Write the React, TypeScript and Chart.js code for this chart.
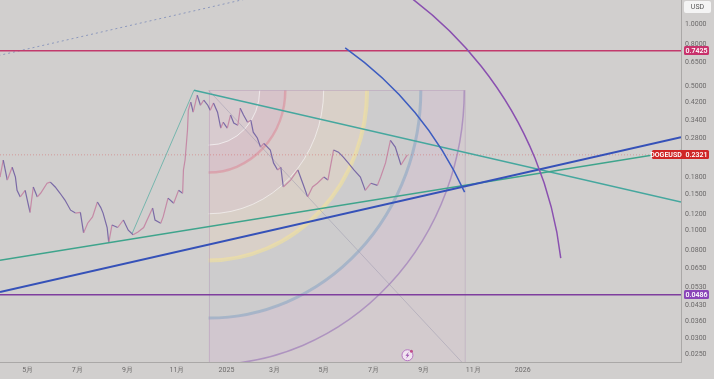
import { useEffect, useRef } from "react";
import { Chart, registerables } from "chart.js";

Chart.register(...registerables);

// ---------- data ----------
const EPOCH = Date.UTC(2025, 0, 1);
const day = (s: string) => Math.round((Date.parse(s + "T00:00:00Z") - EPOCH) / 86400000);

const priceDates = [
  "2024-03-20", "2024-03-28", "2024-04-01", "2024-04-06", "2024-04-12", "2024-04-16", "2024-04-18", "2024-04-22",
  "2024-04-28", "2024-05-04", "2024-05-08", "2024-05-13", "2024-05-17", "2024-05-25", "2024-05-29", "2024-06-04",
  "2024-06-10", "2024-06-16", "2024-06-23", "2024-06-29", "2024-07-05", "2024-07-09", "2024-07-14", "2024-07-20",
  "2024-07-26", "2024-07-30", "2024-08-02", "2024-08-07", "2024-08-09", "2024-08-13", "2024-08-20", "2024-08-27",
  "2024-09-02", "2024-09-08", "2024-09-14", "2024-09-21", "2024-10-02", "2024-10-05", "2024-10-12", "2024-10-15",
  "2024-10-21", "2024-10-28", "2024-11-03", "2024-11-08", "2024-11-09", "2024-11-11", "2024-11-14", "2024-11-15",
  "2024-11-18", "2024-11-21", "2024-11-26", "2024-11-30", "2024-12-04", "2024-12-09", "2024-12-12", "2024-12-16",
  "2024-12-21", "2024-12-25", "2024-12-28", "2025-01-02", "2025-01-06", "2025-01-10", "2025-01-15", "2025-01-18",
  "2025-01-22", "2025-01-27", "2025-01-31", "2025-02-03", "2025-02-08", "2025-02-12", "2025-02-16", "2025-02-24",
  "2025-02-28", "2025-03-05", "2025-03-09", "2025-03-12", "2025-03-21", "2025-03-30", "2025-04-05", "2025-04-11",
  "2025-04-17", "2025-04-23", "2025-05-01", "2025-05-06", "2025-05-13", "2025-05-19", "2025-05-25", "2025-05-31",
  "2025-06-07", "2025-06-15", "2025-06-21", "2025-06-28", "2025-07-06", "2025-07-10", "2025-07-16", "2025-07-22",
  "2025-07-28", "2025-08-04", "2025-08-10", "2025-08-12",
];
const priceValues = [
  0.191, 0.181, 0.219, 0.175, 0.202, 0.181, 0.156, 0.145,
  0.156, 0.122, 0.162, 0.145, 0.151, 0.169, 0.171, 0.162,
  0.151, 0.14, 0.125, 0.121, 0.122, 0.097, 0.108, 0.116,
  0.137, 0.129, 0.121, 0.103, 0.087, 0.106, 0.103, 0.112,
  0.1, 0.095, 0.098, 0.103, 0.128, 0.112, 0.108, 0.116,
  0.143, 0.135, 0.156, 0.151, 0.196, 0.219, 0.306, 0.382,
  0.418, 0.374, 0.452, 0.404, 0.428, 0.404, 0.382, 0.414,
  0.374, 0.313, 0.334, 0.313, 0.362, 0.331, 0.323, 0.391,
  0.362, 0.334, 0.342, 0.299, 0.28, 0.253, 0.264, 0.245,
  0.212, 0.196, 0.202, 0.162, 0.175, 0.196, 0.169, 0.145,
  0.162, 0.169, 0.181, 0.175, 0.245, 0.239, 0.226, 0.212,
  0.196, 0.181, 0.156, 0.169, 0.165, 0.181, 0.212, 0.273,
  0.253, 0.207, 0.226, 0.2321,
];

const xTickDates = [
  "2024-05-01", "2024-07-01", "2024-09-01", "2024-11-01", "2025-01-01", "2025-03-01",
  "2025-05-01", "2025-07-01", "2025-09-01", "2025-11-01", "2026-01-01",
];
const xTickLabels = ["5月", "7月", "9月", "11月", "2025", "3月", "5月", "7月", "9月", "11月", "2026"];
const yTickValues = [
  1, 0.8, 0.65, 0.5, 0.42, 0.34, 0.28, 0.23, 0.18, 0.15, 0.12, 0.1, 0.08, 0.065, 0.053, 0.043, 0.036, 0.03, 0.025,
];

const viewStart = "2024-03-28";
const viewEnd = "2026-07-15";
const priceMin = 0.0229;
const priceMax = 1.31;

const symbol = "DOGEUSD";
const currency = "USD";
const lastPrice = 0.2321;
const resistancePrice = 0.7425;
const supportPrice = 0.0486;

const dottedTrendDates = ["2024-03-20", "2025-02-10"];
const dottedTrendValues = [0.695, 1.37];
const tealFallDates = ["2024-11-22", "2026-07-15"];
const tealFallValues = [0.478, 0.137];
const tealRiseDates = ["2024-09-07", "2024-11-22"];
const tealRiseValues = [0.0967, 0.478];
const greenTrendDates = ["2024-03-28", "2026-07-15"];
const greenTrendValues = [0.0714, 0.2435];
const blueTrendDates = ["2024-03-28", "2026-07-15"];
const blueTrendValues = [0.0501, 0.2826];

const gannDates = ["2024-12-10", "2025-10-21"];
const gannPrices = [0.478, 0.0222];
const gannLevels = [0.2, 0.3, 0.45, 0.62, 0.83, 1];

const purpleArcCenter: [string, number] = ["2024-11-09", 0.0447];
const purpleArcRadius: [string, number] = ["2026-02-20", 3.128];
const purpleArcFrom: [string, number] = ["2025-04-17", 2.418];
const purpleArcTo: [string, number] = ["2026-02-17", 0.0731];
const blueArcCenter: [string, number] = ["2024-09-10", 0.02833];
const blueArcRadius: [string, number] = ["2025-12-01", 1.626];
const blueArcFrom: [string, number] = ["2025-05-27", 0.7647];
const blueArcTo: [string, number] = ["2025-10-21", 0.1527];

const eventMarker: [string, number] = ["2025-08-12", 0.0247];

// ---------- styles ----------
const BG = "#d1cfce";
const AXIS_LINE = "#aaa8a7";
const TICK_COLOR = "#6b6969";
const FONT = "Roboto, 'Noto Sans', sans-serif";
const UP = "#c58aa6";
const DOWN = "#7a6aa6";

const gannBandColors = [
  "rgba(240,205,212,0.16)",
  "rgba(236,160,175,0.17)",
  "rgba(244,205,180,0.16)",
  "rgba(244,232,180,0.18)",
  "rgba(180,212,206,0.18)",
  "rgba(200,182,216,0.15)",
];
const gannLineColors = [
  "rgba(255,255,255,0.6)",
  "rgba(222,112,132,0.4)",
  "rgba(255,255,255,0.55)",
  "rgba(246,228,150,0.55)",
  "rgba(140,166,196,0.6)",
  "rgba(150,112,182,0.6)",
];
const gannLineWidths = [1, 2.5, 1, 4, 3, 1.5];

const pairs = (d: string[], v: number[]) => d.map((s, i) => ({ x: day(s), y: v[i] }));

function lineDs(data: { x: number; y: number }[], color: string, width: number, order: number, dash?: number[]) {
  return {
    type: "line" as const,
    data,
    borderColor: color,
    borderWidth: width,
    borderDash: dash || [],
    pointRadius: 0,
    tension: 0,
    order,
  };
}

function drawArc(chart: any, center: [string, number], radius: [string, number], from: [string, number], to: [string, number], color: string, width: number) {
  const { ctx, chartArea: a } = chart;
  const xs = chart.scales.x;
  const ys = chart.scales.y;
  const cx = xs.getPixelForValue(day(center[0]));
  const cy = ys.getPixelForValue(center[1]);
  const rx = Math.abs(xs.getPixelForValue(day(radius[0])) - cx);
  const ry = Math.abs(ys.getPixelForValue(radius[1]) - cy);
  const ang = (p: [string, number]) =>
    Math.atan2((ys.getPixelForValue(p[1]) - cy) / ry, (xs.getPixelForValue(day(p[0])) - cx) / rx);
  ctx.save();
  ctx.beginPath();
  ctx.rect(a.left, a.top, a.right - a.left, a.bottom - a.top);
  ctx.clip();
  ctx.beginPath();
  ctx.ellipse(cx, cy, rx, ry, 0, ang(from), ang(to));
  ctx.strokeStyle = color;
  ctx.lineWidth = width;
  ctx.stroke();
  ctx.restore();
}

function priceTag(ctx: any, x: number, y: number, w: number, text: string, bg: string) {
  const h = 9;
  ctx.fillStyle = bg;
  ctx.beginPath();
  ctx.roundRect(x, Math.round(y - h / 2), w, h, 1.5);
  ctx.fill();
  ctx.fillStyle = "#ffffff";
  ctx.font = `600 7px ${FONT}`;
  ctx.textAlign = "center";
  ctx.textBaseline = "middle";
  ctx.fillText(text, x + w / 2, y + 0.5);
}

const drawingsPlugin = {
  id: "drawings",
  beforeDraw(chart: any) {
    const { ctx, width, height } = chart;
    ctx.save();
    ctx.fillStyle = BG;
    ctx.fillRect(0, 0, width, height);
    ctx.restore();
  },
  beforeDatasetsDraw(chart: any) {
    const { ctx, chartArea: a } = chart;
    const xs = chart.scales.x;
    const ys = chart.scales.y;
    const x0 = xs.getPixelForValue(day(gannDates[0]));
    const x1 = xs.getPixelForValue(day(gannDates[1]));
    const y0 = ys.getPixelForValue(gannPrices[0]);
    const y1 = ys.getPixelForValue(gannPrices[1]);
    const W = x1 - x0;
    const H = y1 - y0;
    ctx.save();
    ctx.beginPath();
    ctx.rect(a.left, a.top, a.right - a.left, a.bottom - a.top);
    ctx.clip();
    ctx.fillStyle = "rgba(226,186,204,0.16)";
    ctx.fillRect(x0, y0, W, H);
    let prev = 0;
    gannLevels.forEach((f, i) => {
      ctx.beginPath();
      ctx.ellipse(x0, y0, f * W, f * H, 0, 0, Math.PI / 2);
      if (prev > 0) ctx.ellipse(x0, y0, prev * W, prev * H, 0, Math.PI / 2, 0, true);
      else ctx.lineTo(x0, y0);
      ctx.closePath();
      ctx.fillStyle = gannBandColors[i];
      ctx.fill();
      prev = f;
    });
    gannLevels.forEach((f, i) => {
      ctx.beginPath();
      ctx.ellipse(x0, y0, f * W, f * H, 0, 0, Math.PI / 2);
      ctx.strokeStyle = gannLineColors[i];
      ctx.lineWidth = gannLineWidths[i];
      ctx.stroke();
    });
    ctx.strokeStyle = "rgba(180,150,185,0.45)";
    ctx.lineWidth = 1;
    ctx.strokeRect(Math.round(x0) + 0.5, Math.round(y0) + 0.5, W, H);
    ctx.beginPath();
    ctx.moveTo(x0, y0);
    ctx.lineTo(x1, y1);
    ctx.strokeStyle = "rgba(150,148,170,0.45)";
    ctx.stroke();
    ctx.restore();
  },
  afterDatasetsDraw(chart: any) {
    drawArc(chart, purpleArcCenter, purpleArcRadius, purpleArcFrom, purpleArcTo, "#8a50b0", 1.5);
    drawArc(chart, blueArcCenter, blueArcRadius, blueArcFrom, blueArcTo, "#3d5cc0", 1.5);
    const { ctx } = chart;
    const ex = chart.scales.x.getPixelForValue(day(eventMarker[0]));
    const ey = chart.scales.y.getPixelForValue(eventMarker[1]);
    ctx.save();
    ctx.beginPath();
    ctx.arc(ex, ey, 5.5, 0, Math.PI * 2);
    ctx.fillStyle = "#f1e4f1";
    ctx.fill();
    ctx.strokeStyle = "#b878c4";
    ctx.lineWidth = 1;
    ctx.stroke();
    ctx.beginPath();
    ctx.moveTo(ex + 1.5, ey - 3.5);
    ctx.lineTo(ex - 2, ey + 0.5);
    ctx.lineTo(ex, ey + 0.5);
    ctx.lineTo(ex - 1.5, ey + 3.5);
    ctx.lineTo(ex + 2, ey - 0.5);
    ctx.lineTo(ex, ey - 0.5);
    ctx.closePath();
    ctx.fillStyle = "#9a4fae";
    ctx.fill();
    ctx.beginPath();
    ctx.arc(ex + 4, ey - 4, 1.5, 0, Math.PI * 2);
    ctx.fillStyle = "#c0508a";
    ctx.fill();
    ctx.restore();
  },
  afterDraw(chart: any) {
    const { ctx, chartArea: a } = chart;
    const ys = chart.scales.y;
    ctx.save();
    priceTag(ctx, a.right + 3, ys.getPixelForValue(resistancePrice), 25, resistancePrice.toFixed(4), "#c8326c");
    priceTag(ctx, a.right + 3, ys.getPixelForValue(supportPrice), 25, supportPrice.toFixed(4), "#8a45b8");
    const ly = ys.getPixelForValue(lastPrice);
    priceTag(ctx, a.right - 29, ly, 57, "", "#cf2626");
    ctx.fillStyle = "#ffffff";
    ctx.font = `600 7px ${FONT}`;
    ctx.textAlign = "center";
    ctx.textBaseline = "middle";
    ctx.fillText(symbol, a.right - 15, ly + 0.5);
    ctx.fillText(lastPrice.toFixed(4), a.right + 15.5, ly + 0.5);
    // currency box
    ctx.fillStyle = "#f4f4f4";
    ctx.beginPath();
    ctx.roundRect(a.right + 3, 1, 27, 12, 2);
    ctx.fill();
    ctx.fillStyle = "#555555";
    ctx.font = `7px ${FONT}`;
    ctx.fillText(currency, a.right + 16.5, 7.5);
    ctx.restore();
  },
};

export default function App() {
  const ref = useRef<HTMLCanvasElement | null>(null);

  useEffect(() => {
    if (!ref.current) return;
    const xMin = day(viewStart);
    const xMax = day(viewEnd);
    const tickDays = xTickDates.map(day);

    const datasets: any[] = [
      {
        type: "line",
        data: pairs(priceDates, priceValues),
        borderColor: DOWN,
        borderWidth: 1.2,
        pointRadius: 0,
        tension: 0,
        order: 20,
        segment: {
          borderColor: (c: any) => (c.p1.parsed.y >= c.p0.parsed.y ? UP : DOWN),
        },
      },
      lineDs(pairs([viewStart, viewEnd], [lastPrice, lastPrice]), "rgba(215,90,90,0.45)", 1, 15, [1, 2]),
      lineDs(pairs(dottedTrendDates, dottedTrendValues), "#8d99bd", 1, 9, [2, 3]),
      lineDs(pairs(tealRiseDates, tealRiseValues), "rgba(95,175,165,0.8)", 1, 8),
      lineDs(pairs(tealFallDates, tealFallValues), "#45a79e", 1.5, 7),
      lineDs(pairs(greenTrendDates, greenTrendValues), "#3ea48c", 1.5, 6),
      lineDs(pairs(blueTrendDates, blueTrendValues), "#3551b8", 2, 5),
      lineDs(pairs([viewStart, viewEnd], [resistancePrice, resistancePrice]), "#c23a6c", 1.5, 4),
      lineDs(pairs([viewStart, viewEnd], [supportPrice, supportPrice]), "#7f3e9e", 1.5, 3),
    ];

    const chart = new Chart(ref.current, {
      type: "line",
      data: { datasets },
      options: {
        responsive: false,
        animation: false,
        events: [],
        layout: { padding: 0, autoPadding: false },
        plugins: { legend: { display: false }, tooltip: { enabled: false }, title: { display: false } },
        scales: {
          x: {
            type: "linear",
            min: xMin,
            max: xMax,
            bounds: "data",
            afterFit: (s: any) => {
              s.height = 17;
              s.paddingLeft = 0;
              s.paddingRight = 0;
            },
            afterBuildTicks: (s: any) => {
              s.ticks = tickDays.map((v) => ({ value: v }));
            },
            grid: { display: false, drawTicks: false },
            border: { display: true, color: AXIS_LINE, width: 1 },
            ticks: {
              autoSkip: false,
              maxRotation: 0,
              minRotation: 0,
              padding: 4,
              color: TICK_COLOR,
              font: { size: 7, family: FONT },
              callback: (v: any) => {
                const i = tickDays.indexOf(Number(v));
                return i >= 0 ? xTickLabels[i] : "";
              },
            },
          },
          y: {
            type: "logarithmic",
            position: "right",
            min: priceMin,
            max: priceMax,
            bounds: "data",
            afterFit: (s: any) => {
              s.width = 33;
              s.paddingTop = 0;
              s.paddingBottom = 0;
            },
            afterBuildTicks: (s: any) => {
              s.ticks = yTickValues.map((v) => ({ value: v }));
            },
            grid: { display: false, drawTicks: false },
            border: { display: true, color: AXIS_LINE, width: 1 },
            ticks: {
              autoSkip: false,
              padding: 4,
              color: TICK_COLOR,
              font: { size: 7, family: FONT },
              callback: (v: any) => Number(v).toFixed(4),
            },
          },
        },
      },
      plugins: [drawingsPlugin],
    } as any);

    return () => chart.destroy();
  }, []);

  return (
    <div style={{ position: "absolute", left: 0, top: 0, width: 714, height: 379 }}>
      <canvas ref={ref} width={714} height={379} style={{ display: "block", width: 714, height: 379 }} />
    </div>
  );
}
